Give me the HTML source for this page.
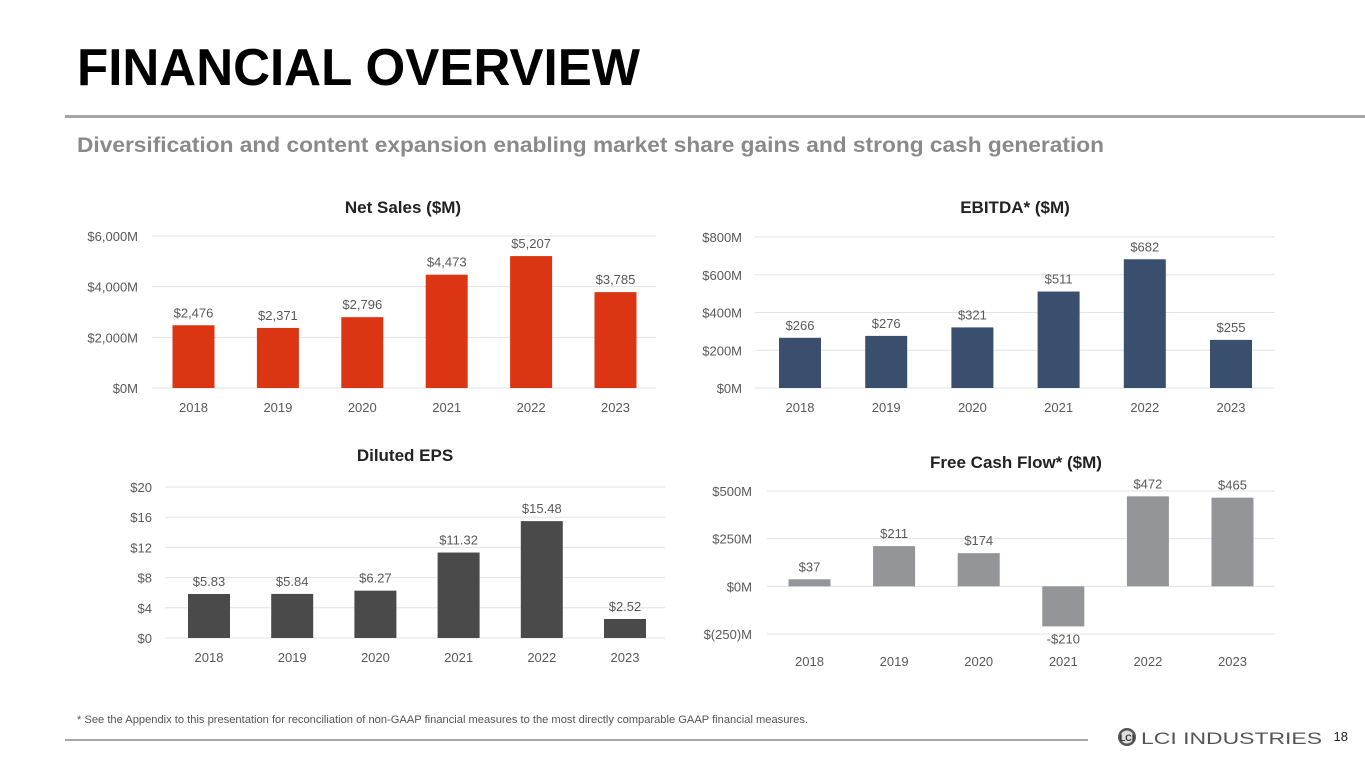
<!DOCTYPE html>
<html><head><meta charset="utf-8"><style>
html,body{margin:0;padding:0;background:#fff}
svg{display:block;font-family:"Liberation Sans",Arial,sans-serif}
</style></head><body>
<svg id="s" width="1365" height="768" viewBox="0 0 1365 768">
<text x="77" y="85" font-size="52" font-weight="bold" fill="#000" textLength="563" lengthAdjust="spacingAndGlyphs">FINANCIAL OVERVIEW</text>
<rect x="65" y="115" width="1300" height="3" fill="#a6a6a6"/>
<text x="77" y="152" font-size="21" font-weight="bold" fill="#8a8a8a" textLength="1027" lengthAdjust="spacingAndGlyphs">Diversification and content expansion enabling market share gains and strong cash generation</text>
<g id="charts"></g>
<text x="77" y="723" font-size="11" fill="#555" textLength="731" lengthAdjust="spacingAndGlyphs">* See the Appendix to this presentation for reconciliation of non-GAAP financial measures to the most directly comparable GAAP financial measures.</text>
<rect x="65" y="739" width="1023" height="2" fill="#a6a6a6"/>
<g>
<circle cx="1127" cy="737" r="9" fill="#555"/><circle cx="1127" cy="737" r="6.5" fill="#ddd"/>
<text x="1127" y="741" font-size="9" font-weight="bold" fill="#333" text-anchor="middle">LCI</text>
<text x="1141" y="744" font-size="17" fill="#555" textLength="181" lengthAdjust="spacingAndGlyphs">LCI INDUSTRIES</text>
</g>
<text x="1348" y="741" font-size="13" fill="#222" text-anchor="end">18</text>
</svg>
<script>
const years = ["2018","2019","2020","2021","2022","2023"];
const salesValues = [2476,2371,2796,4473,5207,3785];
const salesLabels = ["$2,476","$2,371","$2,796","$4,473","$5,207","$3,785"];
const salesTicks = [0,2000,4000,6000];
const salesTickLabels = ["$0M","$2,000M","$4,000M","$6,000M"];
const ebitdaValues = [266,276,321,511,682,255];
const ebitdaLabels = ["$266","$276","$321","$511","$682","$255"];
const ebitdaTicks = [0,200,400,600,800];
const ebitdaTickLabels = ["$0M","$200M","$400M","$600M","$800M"];
const epsValues = [5.83,5.84,6.27,11.32,15.48,2.52];
const epsLabels = ["$5.83","$5.84","$6.27","$11.32","$15.48","$2.52"];
const epsTicks = [0,4,8,12,16,20];
const epsTickLabels = ["$0","$4","$8","$12","$16","$20"];
const fcfValues = [37,211,174,-210,472,465];
const fcfLabels = ["$37","$211","$174","-$210","$472","$465"];
const fcfTicks = [-250,0,250,500];
const fcfTickLabels = ["$(250)M","$0M","$250M","$500M"];

const NS="http://www.w3.org/2000/svg";
const root=document.getElementById('charts');
function mk(tag,attrs,parent,txt){const e=document.createElementNS(NS,tag);for(const k in attrs)e.setAttribute(k,attrs[k]);if(txt!==undefined)e.textContent=txt;parent.appendChild(e);return e;}

function chart(cfg,vals,labels,ticks,tickLabels){
  const g=mk('g',{},root);
  
  
  const t=mk('text',{x:cfg.tx,y:cfg.ty,'font-size':17,'font-weight':'bold','fill':'#222','text-anchor':'middle'},g,cfg.title);
  
  
  const min=ticks[0],max=ticks[ticks.length-1];
  const y=v=>cfg.y0-(v-min)/(max-min)*(cfg.y0-cfg.y1);
  const x=i=>cfg.c0+i*cfg.step;
  ticks.forEach((tv,i)=>{
    const l=mk('line',{x1:cfg.gx0,x2:cfg.gx1,y1:y(tv),y2:y(tv),stroke:'#e3e3e3','stroke-width':1},g);
    
    
    const tl=mk('text',{x:cfg.lx,y:y(tv)+5,'font-size':13,fill:'#595959','text-anchor':'end'},g,tickLabels[i]);
    
    
  });
  const zero=y(Math.max(0,min));
  vals.forEach((v,i)=>{
    const yv=y(v);
    const r=mk('rect',{x:x(i)-21,y:Math.min(yv,zero),width:42,height:Math.abs(zero-yv),fill:cfg.color},g);
    
    
    const ly=v>=0?yv-8:yv+17;
    const vl=mk('text',{x:x(i),y:ly,'font-size':13,fill:'#595959','text-anchor':'middle'},g,labels[i]);
    
    
    const xl=mk('text',{x:x(i),y:cfg.xy,'font-size':13,fill:'#595959','text-anchor':'middle'},g,years[i]);
    
    
  });
}
chart({name:'net-sales-chart',title:'Net Sales ($M)',tx:403,ty:213,y0:388,y1:236,c0:193.5,step:84.4,gx0:152,gx1:656,lx:138,xy:412,color:'#DC3514'},salesValues,salesLabels,salesTicks,salesTickLabels);
chart({name:'ebitda-chart',title:'EBITDA* ($M)',tx:1015,ty:213,y0:388,y1:237,c0:800,step:86.2,gx0:755,gx1:1275,lx:742,xy:412,color:'#3A4F6E'},ebitdaValues,ebitdaLabels,ebitdaTicks,ebitdaTickLabels);
chart({name:'diluted-eps-chart',title:'Diluted EPS',tx:405,ty:461,y0:638,y1:487,c0:209,step:83.2,gx0:165,gx1:665,lx:152,xy:662,color:'#4A4A4A'},epsValues,epsLabels,epsTicks,epsTickLabels);
chart({name:'free-cash-flow-chart',title:'Free Cash Flow* ($M)',tx:1016,ty:468,y0:634,y1:491,c0:809.5,step:84.6,gx0:767,gx1:1275,lx:752,xy:666,color:'#939598'},fcfValues,fcfLabels,fcfTicks,fcfTickLabels);
</script>
</body></html>
